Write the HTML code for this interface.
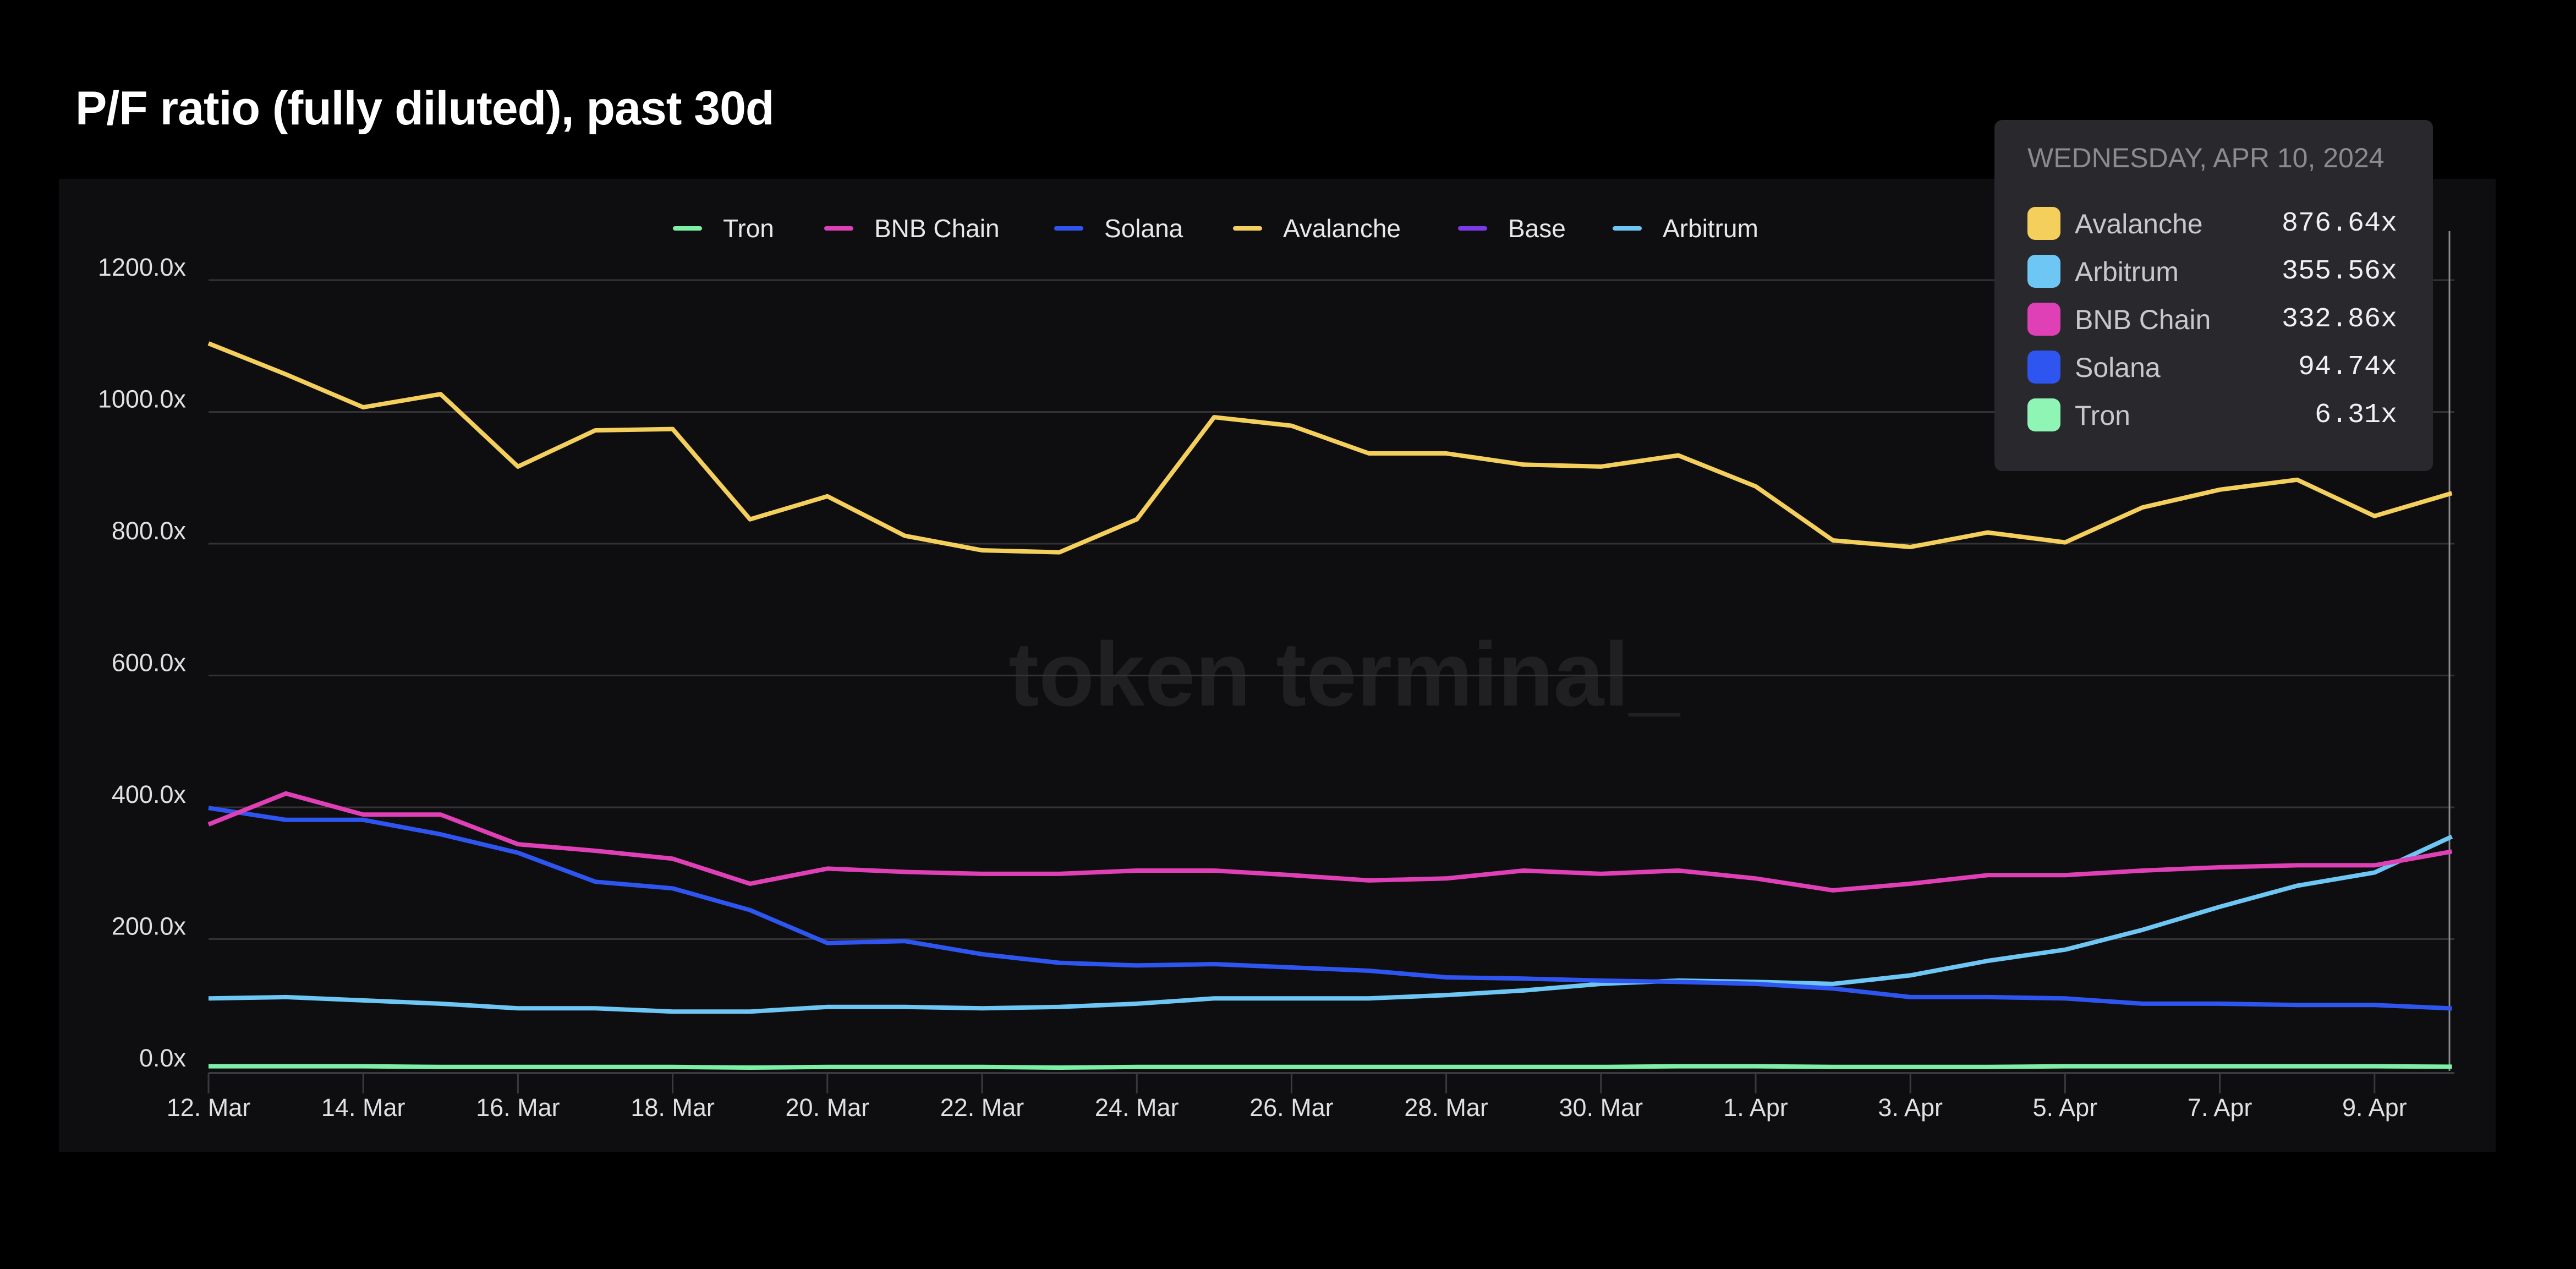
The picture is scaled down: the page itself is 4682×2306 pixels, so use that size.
<!DOCTYPE html>
<html><head><meta charset="utf-8"><style>
html,body{margin:0;padding:0;background:#000;}
body{width:4682px;height:2306px;overflow:hidden;position:relative;font-family:"Liberation Sans",sans-serif;}
</style></head><body>
<div style="position:absolute;left:137px;top:148px;font-size:86px;font-weight:bold;color:#fff;letter-spacing:-1px;">P/F ratio (fully diluted), past 30d</div>
<svg id="chart" width="4682" height="2306" style="position:absolute;left:0;top:0" xmlns="http://www.w3.org/2000/svg"></svg>
<div style="position:absolute;left:3625px;top:218px;width:797px;height:638px;background:#28282d;border-radius:14px;">
  <div style="position:absolute;left:60px;top:40px;font-size:50px;color:#8a8a90;">WEDNESDAY, APR 10, 2024</div>
  <div id="rows"></div>
</div>
<script>
const categories = ["12. Mar","13. Mar","14. Mar","15. Mar","16. Mar","17. Mar","18. Mar","19. Mar","20. Mar","21. Mar","22. Mar","23. Mar","24. Mar","25. Mar","26. Mar","27. Mar","28. Mar","29. Mar","30. Mar","31. Mar","1. Apr","2. Apr","3. Apr","4. Apr","5. Apr","6. Apr","7. Apr","8. Apr","9. Apr","10. Apr"];
const avalanche = [1104,1057,1007,1027,917,972,974,837,872,812,790,787,837,992,979,937,937,920,917,934,887,805,795,817,802,855,882,897,842,876.64];
const bnb = [374,421,389,389,344,334,322,284,307,302,299,299,304,304,297,289,292,304,299,304,292,274,284,297,297,304,309,312,312,332.86];
const solana = [399,381,381,359,331,287,277,244,194,197,177,164,160,162,157,152,142,140,137,135,132,125,112,112,110,102,102,100,100,94.74];
const arbitrum = [110,112,107,102,95,95,90,90,97,97,95,97,102,110,110,110,115,122,132,137,135,132,145,167,184,214,249,281,301,355.56];
const tron = [7,7,7,6,6,6,6,5,6,6,6,5,6,6,6,6,6,6,6,7,7,6,6,6,7,7,7,7,7,6.31];
const yTicks = [0,200,400,600,800,1000,1200];
const yTickLabels = ["0.0x","200.0x","400.0x","600.0x","800.0x","1000.0x","1200.0x"];
const legendNames = ["Tron","BNB Chain","Solana","Avalanche","Base","Arbitrum"];
const tooltipNames = ["Avalanche","Arbitrum","BNB Chain","Solana","Tron"];
const tooltipValues = ["876.64x","355.56x","332.86x","94.74x","6.31x"];

const NS="http://www.w3.org/2000/svg";
const svg=document.getElementById('chart');
const X0=379, DX=140.6, Y0=1946, YS=239.5/200;
function xs(i){return X0+i*DX;}
function ys(v){return Y0-v*YS;}
function mk(t,a,p){const e=document.createElementNS(NS,t);for(const k in a)e.setAttribute(k,a[k]);(p||svg).appendChild(e);return e;}

const panel=mk('rect',{x:107,y:325,width:4429,height:1768,fill:'#0e0e10'});



const wm=mk('text',{x:2443,y:1282,'font-size':165,'font-weight':'bold',fill:'#202022','text-anchor':'middle','font-family':'Liberation Sans'});
wm.textContent='token terminal_';



yTicks.forEach((v,i)=>{
  const g=mk('line',{x1:379,x2:4461,y1:ys(v)+(v===0?4:0),y2:ys(v)+(v===0?4:0),stroke:v===0?'#3a3a3e':'#333336','stroke-width':v===0?4:3});
  
  
  const t=mk('text',{x:338,y:ys(v)-8,'font-size':45,fill:'#e0e0e0','text-anchor':'end','font-family':'Liberation Sans'});
  t.textContent=yTickLabels[i];
  
  
});
categories.forEach((c,i)=>{
  if(i%2!==0)return;
  const tk=mk('line',{x1:xs(i),x2:xs(i),y1:1950,y2:1987,stroke:'#3a3a3e','stroke-width':3});
  
  
  const t=mk('text',{x:xs(i),y:2028,'font-size':45,fill:'#e0e0e0','text-anchor':'middle','font-family':'Liberation Sans'});
  t.textContent=c;
  
  
});

const cross=mk('line',{x1:4452,x2:4452,y1:420,y2:1946,stroke:'#8a8a8e','stroke-width':3});



const series=[[tron,'#7df0a8','tron-line'],[arbitrum,'#6ec6f5','arbitrum-line'],[solana,'#2f55f0','solana-line'],[bnb,'#e040b5','bnb-chain-line'],[avalanche,'#f5cf5b','avalanche-line']];
series.forEach(s=>{
  const d=s[0].map((v,i)=>(i?'L':'M')+xs(i).toFixed(1)+' '+ys(v).toFixed(1)).join(' ');
  const p=mk('path',{d:d,fill:'none',stroke:s[1],'stroke-width':8,'stroke-linejoin':'round'});
  
  
});

const legendColors=['#7df0a8','#e040b5','#2f55f0','#f5cf5b','#7a3ce8','#6ec6f5'];
const legendX=[1227,1502,1920,2245,2654,2935];
legendNames.forEach((n,i)=>{
  const g=mk('g',{});
  
  
  mk('line',{x1:legendX[i],x2:legendX[i]+45,y1:415,y2:415,stroke:legendColors[i],'stroke-width':8,'stroke-linecap':'round'},g);
  const t=mk('text',{x:legendX[i]+87,y:431,'font-size':46,fill:'#e8e8e8','font-family':'Liberation Sans'},g);
  t.textContent=n;
});

const rows=document.getElementById('rows');
const tipColors=['#f5cf5b','#6ec6f5','#e040b5','#2f55f0','#8ef5b5'];
tooltipNames.forEach((n,i)=>{
  const r=document.createElement('div');
  
  
  r.style.cssText='position:absolute;left:0;top:'+(158+i*87)+'px;width:797px;height:60px;';
  r.innerHTML='<div style="position:absolute;left:60px;top:0;width:60px;height:60px;border-radius:14px;background:'+tipColors[i]+'"></div>'+
  '<div style="position:absolute;left:146px;top:2px;font-size:50px;color:#c8c8cc;">'+n+'</div>'+
  '<div style="position:absolute;right:65px;top:2px;font-size:50px;color:#f0f0f0;font-family:\'Liberation Mono\',monospace;">'+tooltipValues[i]+'</div>';
  rows.appendChild(r);
});
</script>
</body></html>
